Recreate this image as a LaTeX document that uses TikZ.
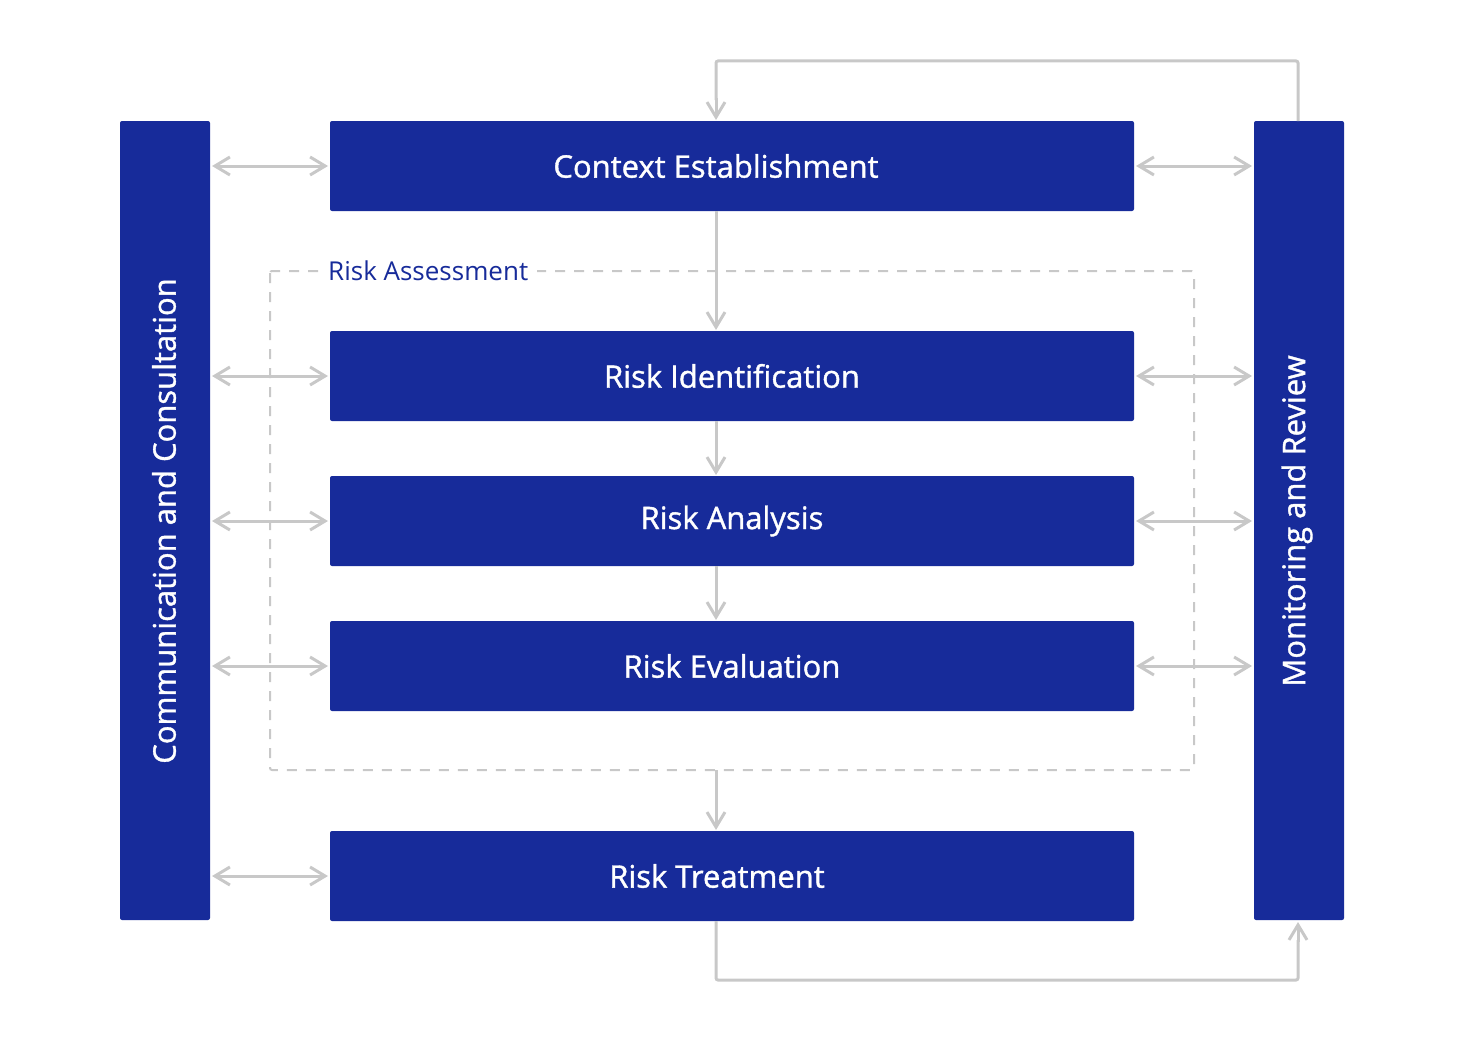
\documentclass[tikz,border=0pt]{standalone}
\usepackage{fontspec}
\setmainfont{Open Sans}
\IfFontExistsTF{Open Sans SemiBold}{\newfontfamily\semib{Open Sans SemiBold}}{\newfontfamily\semib{Open Sans}[FakeBold=1.2]}
\usetikzlibrary{arrows.meta}
\definecolor{barblue}{RGB}{23,43,154}
\definecolor{lgray}{RGB}{200,200,200}
\begin{document}
\begin{tikzpicture}[x=1pt,y=-1pt,
  blk/.style={fill=barblue, rounded corners=2pt, inner sep=0pt, text=white},
  boxtxt/.style={text=white, font=\semib\fontsize{31}{37}\selectfont, inner sep=0pt},
  conn/.style={draw=lgray, line width=3pt, -{Straight Barb[length=15pt,width=18pt,line width=3pt]}},
  dconn/.style={draw=lgray, line width=3pt, {Straight Barb[length=15pt,width=18pt,line width=3pt]}-{Straight Barb[length=15pt,width=18pt,line width=3pt]}},
  loopline/.style={draw=lgray, line width=3pt, rounded corners=2pt},
]
\useasboundingbox (0,0) rectangle (1464,1041);
% bars
\path[blk] (120,121) rectangle (210,920);
\node[inner sep=0pt, minimum width=90pt, minimum height=799pt] (comm) at (165,520.5) {};
\node[boxtxt, rotate=90] (commt) at (164,521) {Communication and Consultation};
\path[blk] (1254,121) rectangle (1344,920);
\node[inner sep=0pt, minimum width=90pt, minimum height=799pt] (mon) at (1299,520.5) {};
\node[boxtxt, rotate=90] (mont) at (1297,521) {Monitoring and Review};
% dashed assessment box
\draw[lgray, line width=2pt, dash pattern=on 10pt off 9pt, rounded corners=2pt] (270,271) rectangle (1194,770);
\node[fill=white, inner xsep=9pt, inner ysep=2pt, anchor=west, text=barblue, font=\fontsize{26}{30}\selectfont] (ra) at (319,271) {Risk Assessment};
\coordinate (rabot) at (716,770);
% process boxes
\foreach \n/\y in {ctx/166, rid/376, ran/521, rev/666, rtr/876}{
  \path[blk] (330,\y-45) rectangle (1134,\y+45);
  \node[inner sep=0pt, minimum width=804pt, minimum height=90pt] (\n) at (732,\y) {};
}
\node[boxtxt] at (716,166) {Context Establishment};
\node[boxtxt] at (732,376) {Risk Identification};
\node[boxtxt] at (732,521) {Risk Analysis};
\node[boxtxt] at (732,666) {Risk Evaluation};
\node[boxtxt] at (717,876) {Risk Treatment};
% vertical flow
\draw[conn] (716,211) -- (716,330);
\draw[conn] (716,421) -- (716,475);
\draw[conn] (716,566) -- (716,620);
\draw[conn] (rabot) -- (716,830);
% horizontal double arrows
\foreach \y in {166,376,521,666,876}{
  \draw[dconn] (212,\y) -- (328,\y);
}
\foreach \y in {166,376,521,666}{
  \draw[dconn] (1136,\y) -- (1252,\y);
}
% loops
\draw[loopline] (1298,121) -- (1298,61) -- (716,61) -- (716,100);
\draw[conn] (716,98) -- (716,120);
\draw[loopline] (716,921) -- (716,980) -- (1298,980) -- (1298,940);
\draw[conn] (1298,942) -- (1298,922);
\end{tikzpicture}
\end{document}
